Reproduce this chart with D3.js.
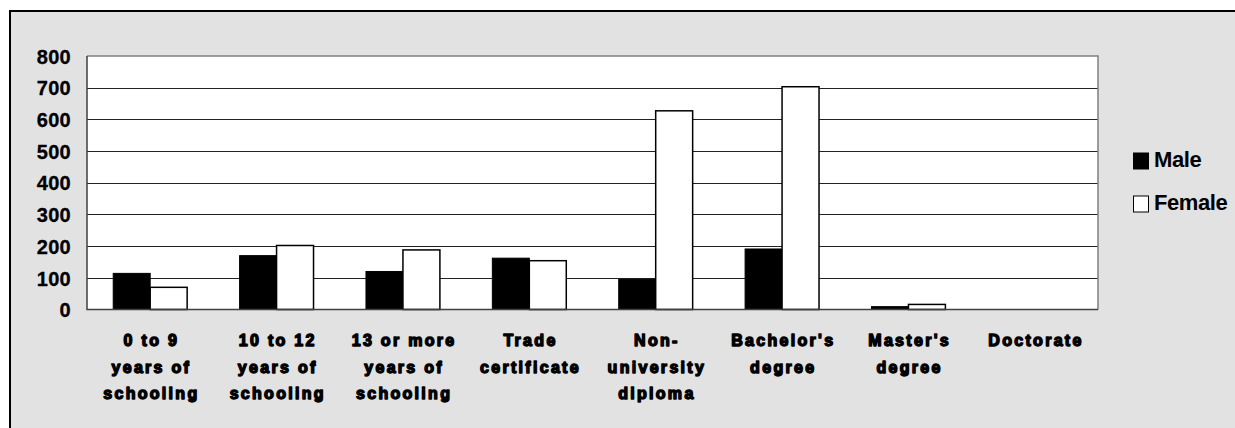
<!DOCTYPE html>
<html><head><meta charset="utf-8">
<script src="https://cdn.jsdelivr.net/npm/d3@7"></script>
<style>body{margin:0;background:#fff;}svg{display:block;}</style>
</head><body>
<svg id="c" width="1235" height="428"></svg>
<script>
const categories = [
  ["0 to 9","years of","schooling"],
  ["10 to 12","years of","schooling"],
  ["13 or more","years of","schooling"],
  ["Trade","certificate"],
  ["Non-","university","diploma"],
  ["Bachelor's","degree"],
  ["Master's","degree"],
  ["Doctorate"]
];
const male   = [114, 170, 120, 162, 95, 191, 9, 0];
const female = [70, 202, 188, 154, 627, 703, 16, 0];
const seriesNames = ["Male","Female"];
const yTicks = [0,100,200,300,400,500,600,700,800];

const svg = d3.select("#c");
svg.append("rect").attr("x",10).attr("y",11).attr("width",1235).attr("height",430)
  .attr("fill","#e2e2e2").attr("stroke","#000").attr("stroke-width",2);

const L=87, R=1098, T=56, B=309.5;
const x = d3.scaleBand().domain(d3.range(categories.length)).range([L,R]).paddingInner(0.415).paddingOuter(0.2075);
const y = d3.scaleLinear().domain([0,800]).range([B,T]);

svg.append("rect").attr("x",L).attr("y",T).attr("width",R-L).attr("height",B-T).attr("fill","#fff");
svg.append("g").selectAll("line").data(yTicks.filter(d=>d>0&&d<800)).join("line")
  .attr("x1",L).attr("x2",R).attr("y1",d=>Math.round(y(d))+0.5).attr("y2",d=>Math.round(y(d))+0.5)
  .attr("stroke","#222").attr("stroke-width",1);
svg.append("path").attr("d",`M${L},${T}H${R}V${B}`).attr("fill","none").attr("stroke","#808080").attr("stroke-width",1.5);

const bw = x.bandwidth()/2;
const g = svg.append("g");
g.selectAll(".m").data(male).join("rect")
  .attr("x",(d,i)=>x(i)).attr("y",d=>y(d)).attr("width",bw).attr("height",d=>B-y(d))
  .attr("fill","#000").attr("stroke","#000").attr("stroke-width",1);
g.selectAll(".f").data(female).join("rect")
  .attr("x",(d,i)=>x(i)+bw).attr("y",d=>y(d)).attr("width",bw).attr("height",d=>B-y(d))
  .attr("fill","#fff").attr("stroke","#000").attr("stroke-width",1.5)
  .attr("display",d=>d>0?null:"none");

svg.append("path").attr("d",`M${L},${T}V${B}H${R}`).attr("fill","none").attr("stroke","#404040").attr("stroke-width",1.5);

const yAxis = d3.axisLeft(y).tickValues(yTicks).tickSize(0).tickPadding(16);
const ya = svg.append("g").attr("transform",`translate(${L},0)`).call(yAxis);
ya.select(".domain").remove();
ya.selectAll("text").attr("font-family","Liberation Sans, Arial, sans-serif").attr("font-weight","bold")
  .attr("font-size",20).attr("fill","#000").attr("dy","0.36em").attr("letter-spacing","0.3")
  .attr("stroke","#000").attr("stroke-width",0.3);

const xl = svg.append("g");
categories.forEach((lines,i)=>{
  const cx = x(i)+x.bandwidth()/2;
  const t = xl.append("text").attr("x",cx).attr("y",346).attr("text-anchor","middle")
    .attr("font-family","Liberation Sans, Arial, sans-serif").attr("font-weight","bold")
    .attr("font-size",16).attr("letter-spacing","2.3").attr("fill","#000")
    .attr("stroke","#000").attr("stroke-width",1.4).attr("stroke-linejoin","round");
  lines.forEach((s,j)=>t.append("tspan").attr("x",cx+1.2).attr("dy",j===0?0:26.5).text(s));
});

const lg = svg.append("g");
seriesNames.forEach((n,i)=>{
  const yy = 153 + i*43;
  lg.append("rect").attr("x",1133.5).attr("y",yy).attr("width",15).attr("height",16)
    .attr("fill",i===0?"#000":"#fff").attr("stroke","#000").attr("stroke-width",1);
  lg.append("text").attr("x",1154).attr("y",yy+6).attr("dy","0.36em")
    .attr("font-family","Liberation Sans, Arial, sans-serif").attr("font-weight","bold")
    .attr("font-size",22).attr("letter-spacing","-0.4").attr("fill","#000").text(n);
});
</script>
</body></html>
